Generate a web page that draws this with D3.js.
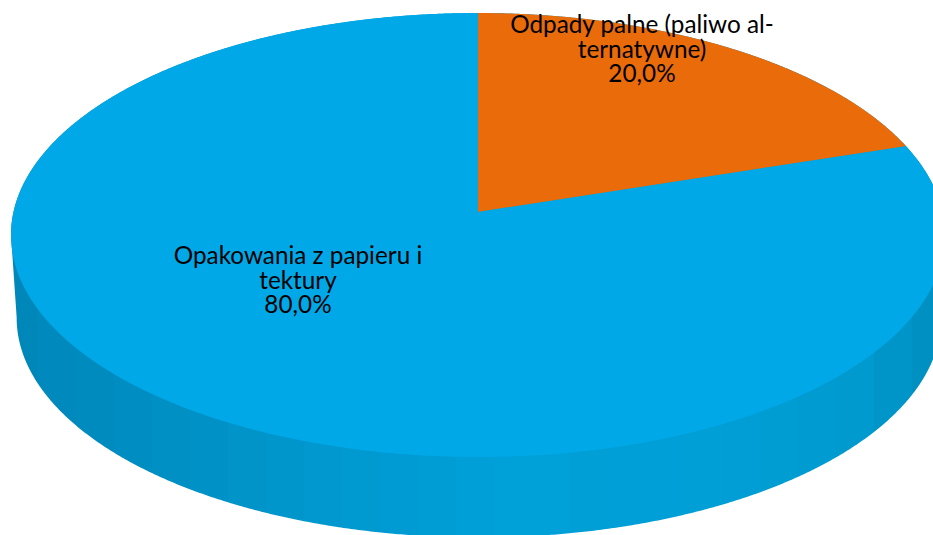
<!DOCTYPE html>
<html>
<head>
<meta charset="utf-8">
<script src="https://cdn.jsdelivr.net/npm/d3@7/dist/d3.min.js"></script>
<style>html,body{margin:0;padding:0;background:#fff;overflow:hidden}svg{display:block}</style>
</head>
<body>
<svg id="c" width="933" height="535"></svg>
<script>
const categories = ["Odpady palne (paliwo alternatywne)", "Opakowania z papieru i tektury"];
const values = [20, 80];
const valueLabels = ["20,0%", "80,0%"];
const labelLines = [["Odpady palne (paliwo al-", "ternatywne)", "20,0%"], ["Opakowania z papieru i", "tektury", "80,0%"]];
const colors = ["#E96B0A", "#00A8E8"];
const sideStops = [[11, "#0086B9"], [150, "#008FC3"], [300, "#0097CD"], [500, "#00A0D8"], [720, "#009FD6"], [860, "#009ACF"], [945, "#008EC0"]];

const svg = d3.select("#c");
const cx = 478, cy = 212, persp = 0.1036;
const rx = 464.5, ry = 219.6;
const depth = 83, shrink = 0.99;

const scaleX = d3.scaleLinear().domain([-1, 1]).range([cx - rx, cx + rx]);
const scaleY = d3.scaleLinear().domain([-1, 1]).range([cy + ry, cy - ry]);
function topPt(a) {
  const u = Math.sin(a), v = Math.cos(a), w = 1 + persp * v;
  return [scaleX(u / w), scaleY(v / w)];
}
function botPt(a) {
  const p = topPt(a);
  return [cx + 1 + shrink * (p[0] - cx), p[1] + depth + (shrink - 1) * (p[1] - cy)];
}
const shade = d3.scaleLinear().domain(sideStops.map(d => d[0])).range(sideStops.map(d => d[1]));
const line = d3.line();
const pie = d3.pie().sort(null).startAngle(0).endAngle(2 * Math.PI);
const arcs = pie(values);

// stepped vertical bands across the side wall
const bandW = 38;
const bandEdges = d3.range(0, 960, bandW);
const grad = svg.append("defs").append("linearGradient")
  .attr("id", "side").attr("gradientUnits", "userSpaceOnUse")
  .attr("x1", 0).attr("x2", 960).attr("y1", 0).attr("y2", 0);
bandEdges.forEach(x => {
  const c = shade(x + bandW / 2);
  grad.append("stop").attr("offset", x / 960).attr("stop-color", c);
  grad.append("stop").attr("offset", Math.min(1, (x + bandW) / 960)).attr("stop-color", c);
});

// side wall as one outline: lower rim (right to left), then upper rim back over the top
const samples = d3.range(0, 2 * Math.PI, 0.005);
const aRight = d3.greatest(samples, a => topPt(a)[0]);
const aLeft = d3.least(samples, a => topPt(a)[0]);
const lower = d3.range(aRight, aLeft, 0.005).map(botPt);
const upper = d3.range(aLeft, aRight + 2 * Math.PI, 0.005).map(topPt);
svg.append("path")
  .attr("d", line([...lower, botPt(aLeft), ...upper, topPt(aRight)]) + "Z")
  .attr("fill", "url(#side)");

// top surface
svg.append("g").selectAll("path").data(arcs).join("path")
  .attr("d", d => {
    const n = Math.ceil((d.endAngle - d.startAngle) / 0.005);
    const pts = d3.range(n + 1).map(i => topPt(d.startAngle + (d.endAngle - d.startAngle) * i / n));
    return line([[cx, cy], ...pts]) + "Z";
  })
  .attr("fill", (d, i) => colors[i]);

// labels
const anchors = [[642, 33], [298, 264]];
const lh = 24.7;
const g = svg.append("g").attr("font-family", "Lato, Carlito, sans-serif").attr("font-size", 24.3).attr("fill", "#000").attr("text-anchor", "middle");
labelLines.forEach((lines, i) => {
  g.selectAll(null).data(lines).join("text")
    .attr("x", anchors[i][0])
    .attr("y", (d, j) => anchors[i][1] + j * lh)
    .text(d => d);
});
</script>
</body>
</html>
